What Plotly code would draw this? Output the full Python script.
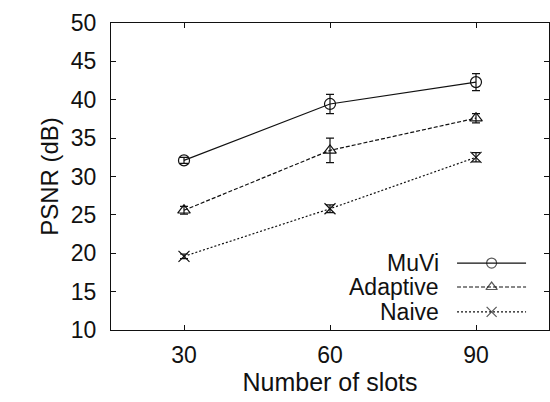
import plotly.graph_objects as go

slots = [30, 60, 90]
muvi = [32.1, 39.45, 42.3]
muvi_err = [0.4, 1.25, 1.1]
adaptive = [25.6, 33.4, 37.6]
adaptive_err = [0.5, 1.6, 0.6]
naive = [19.6, 25.8, 32.5]
naive_err = [0.3, 0.5, 0.6]

names = ["MuVi", "Adaptive", "Naive"]
dashes = ["solid", "4px,2px", "2px,2px"]
symbols = ["circle-open", "triangle-up-open", "x-thin-open"]
series = [(muvi, muvi_err), (adaptive, adaptive_err), (naive, naive_err)]

FONT = "Liberation Sans, Arial, sans-serif"
INK = "#111"
fig = go.Figure()
for (vals, errs), name, dash, sym in zip(series, names, dashes, symbols):
    fig.add_trace(go.Scatter(
        x=slots, y=vals, name=name, mode="lines+markers",
        line=dict(color=INK, width=1.2, dash=dash),
        marker=dict(symbol=sym, size=11, color=INK, line=dict(width=1.2, color=INK)),
        error_y=dict(type="data", array=errs, visible=True, color=INK, thickness=1.2, width=4),
        showlegend=False,
    ))

# custom legend (text right-aligned, sample to the right) in an overlay axis
leg_y = [0.218, 0.140, 0.059]
for name, dash, sym, ly in zip(names, dashes, symbols, leg_y):
    fig.add_trace(go.Scatter(
        x=[0.0, 0.5, 1.0], y=[ly, ly, ly], mode="lines+markers", xaxis="x2", yaxis="y2",
        line=dict(color=INK, width=1.2, dash=dash),
        marker=dict(symbol=sym, size=[0, 10, 0], color=INK, line=dict(width=1.2, color=INK)),
        showlegend=False, hoverinfo="skip",
    ))
    fig.add_annotation(x=0.753, y=ly, xref="paper", yref="paper", text=name, showarrow=False,
                       xanchor="right", yanchor="middle", font=dict(size=23, family=FONT, color=INK))

fig.update_layout(
    width=550, height=402,
    margin=dict(l=111, r=1, t=23, b=72),
    paper_bgcolor="white", plot_bgcolor="rgba(0,0,0,0)",
    font=dict(family=FONT, size=23, color=INK),
    xaxis=dict(range=[15, 105], tickvals=slots, ticks="inside", ticklen=5, tickcolor=INK,
               showline=True, linecolor=INK, linewidth=1.2, mirror="ticks", showgrid=False,
               zeroline=False, ticklabelstandoff=4,
               title=dict(text="Number of slots", font=dict(size=25), standoff=6)),
    yaxis=dict(range=[10, 50], dtick=5, ticks="inside", ticklen=5, tickcolor=INK,
               showline=True, linecolor=INK, linewidth=1.2, mirror="ticks", showgrid=False,
               zeroline=False, ticklabelstandoff=9,
               title=dict(text="PSNR (dB)", font=dict(size=24), standoff=5)),
    xaxis2=dict(domain=[0.79, 0.948], range=[0, 1], visible=False, anchor="y2"),
    yaxis2=dict(domain=[0.0, 1.0], range=[0, 1], visible=False, anchor="x2"),
)
fig.write_html("out.html")
